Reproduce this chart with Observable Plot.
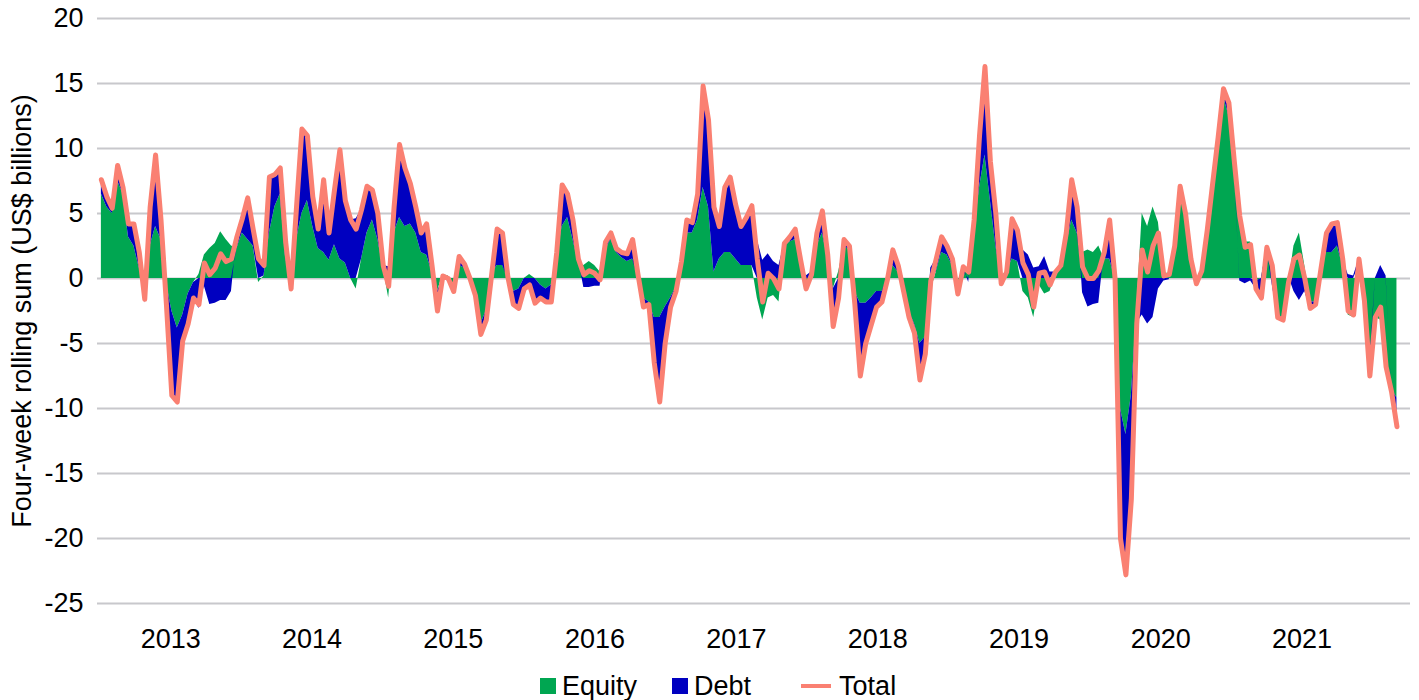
<!DOCTYPE html>
<html>
<head>
<meta charset="utf-8">
<script src="https://cdn.jsdelivr.net/npm/d3@7"></script>
<script src="https://cdn.jsdelivr.net/npm/@observablehq/plot@0.6"></script>
<style>
  body { margin: 0; background: #fff; font-family: "Liberation Sans", Arial, sans-serif; }
  #wrap { position: relative; width: 1419px; height: 700px; overflow: hidden; }
  #legend { position: absolute; left: 540px; top: 668px; height: 36px; display: flex; align-items: center; font-size: 27px; color: #000; white-space: nowrap; }
  .sw { width: 16px; height: 16px; display: inline-block; margin-right: 6px; }
  .ln { width: 30px; height: 4px; display: inline-block; margin-right: 8px; }
  .item { display: flex; align-items: center; }
</style>
</head>
<body>
<div id="wrap">
  <div id="chart"></div>
  <div id="legend"></div>
</div>
<script>
// ---- data (four-week rolling sums, US$ billions, sampled every two weeks) ----
const startDate = "2013-01-04";
const stepDays = 14;

const totalFlows = [
  7.6, 6.3, 5.4, 8.7, 7.0, 4.2, 4.2, 2.0, -1.6, 5.5,
  9.5, 4.5, -2.0, -9.0, -9.5, -4.8, -3.5, -1.5, -2.0, 1.2,
  0.3, 0.8, 1.9, 1.3, 1.5, 3.2, 4.6, 6.2, 3.8, 1.5,
  1.0, 7.8, 8.0, 8.5, 2.8, -0.8, 5.5, 11.5, 11.0, 6.3,
  3.8, 7.6, 3.5, 6.8, 9.9, 6.0, 4.5, 3.8, 5.3, 7.1,
  6.8, 5.0, 1.0, -0.6, 5.5, 10.3, 8.5, 7.3, 5.5, 3.5,
  4.2, 1.0, -2.5, 0.2, 0.0, -1.0, 1.7, 1.1, 0.0, -1.3,
  -4.3, -3.2, 0.3, 3.8, 3.5, 0.1, -2.0, -2.3, -0.8, -0.5,
  -1.9, -1.5, -1.8, -1.8, 2.0, 7.2, 6.5, 4.5, 1.5, 0.3,
  0.6, 0.4, -0.1, 2.8, 3.5, 2.3, 2.0, 1.9, 3.0, 0.3,
  -2.2, -2.0, -6.5, -9.5, -5.0, -2.2, -1.0, 1.3, 4.5, 4.3,
  6.5, 14.8, 12.2, 5.5, 4.0, 7.0, 7.8, 5.7, 4.0, 4.7,
  5.6, 1.5, -1.8, 0.4, 0.0, -0.8, 2.7, 3.2, 3.8, 1.4,
  -0.8, 0.3, 3.5, 5.2, 1.8, -3.7, -1.5, 3.0, 2.5, -2.0,
  -7.5, -5.0, -3.6, -2.2, -1.8, -0.1, 2.2, 1.0, -1.0, -3.0,
  -4.2, -7.8, -5.8, -0.2, 1.5, 3.2, 2.5, 1.5, -1.2, 0.9,
  0.5, 4.5, 11.0, 16.3, 9.0, 5.0, -0.4, 0.5, 4.6, 3.7,
  1.2, 0.3, -2.2, 0.4, 0.5, -0.5, 0.5, 1.0, 3.5, 7.6,
  5.5, 0.9, 0.0, 0.0, 0.6, 2.0, 4.5, 0.0, -20.0, -22.8,
  -17.0, -3.5, 2.2, 0.5, 2.5, 3.5, 0.2, 0.3, 2.5, 7.1,
  5.0, 1.5, -0.4, 0.6, 3.7, 7.3, 10.8, 14.6, 13.5, 9.0,
  4.8, 2.4, 2.6, -0.8, -1.5, 2.4, 1.0, -3.0, -3.2, -0.3,
  1.5, 1.8, 0.0, -2.3, -2.0, 0.8, 3.5, 4.2, 4.3, 1.5,
  -2.5, -2.8, 1.5, -1.7, -7.5, -3.0, -2.2, -6.8, -8.7, -11.4
];

const equityFlows = [
  6.5, 5.5, 5.0, 7.5, 6.5, 3.2, 2.5, 0.8, 0.3, 2.5,
  4.0, 3.0, -0.3, -2.5, -3.8, -2.8, -1.2, -0.3, 0.3, 1.8,
  2.3, 2.7, 3.6, 3.0, 2.5, 2.3, 3.5, 3.0, 2.5, -0.3,
  0.2, 3.5, 5.5, 6.5, 1.5, 0.2, 3.0, 5.0, 6.0, 4.0,
  2.3, 2.0, 1.4, 2.6, 1.5, 1.2, 0.0, -0.8, 1.5, 3.5,
  4.5, 3.0, 0.8, -1.5, 3.5, 4.7, 4.0, 4.2, 3.5, 2.0,
  1.8, 0.5, -1.0, 0.3, 0.2, -0.5, 1.0, 0.8, -0.2, -1.0,
  -3.5, -2.5, 0.3, 1.0, 1.0, 0.2, -1.0, -0.8, 0.0, 0.3,
  0.0, -0.5, -0.8, -0.5, 1.5, 4.0, 4.7, 3.0, 1.2, 1.0,
  1.3, 1.0, 0.5, 2.2, 3.0, 2.0, 1.6, 1.3, 1.5, 0.5,
  -1.5, -1.8, -3.0, -3.0, -2.2, -1.5, -0.7, 1.0, 3.5, 3.5,
  4.5, 7.0, 5.5, 0.5, 1.5, 2.0, 2.0, 1.5, 1.0, 1.0,
  1.0, -1.5, -3.2, -1.5, -1.3, -1.8, 2.5, 2.8, 3.0, 1.0,
  -1.0, -0.2, 2.5, 3.5, 1.5, -0.8, 0.5, 2.5, 2.2, -1.0,
  -1.9, -1.9, -1.5, -1.0, -1.0, -0.3, 1.0, 0.5, -1.0, -2.5,
  -3.5, -5.0, -4.5, -1.0, 0.5, 2.0, 1.8, 1.0, -0.5, 0.5,
  0.8, 3.5, 7.0, 9.5, 6.0, 2.5, 0.2, 0.5, 1.5, 1.3,
  -1.0, -1.5, -3.0, -0.5, -1.2, -1.0, 0.3, 0.8, 2.5, 4.5,
  3.5, 2.0, 2.2, 2.0, 2.5, 1.5, 1.5, 0.0, -10.0, -12.0,
  -9.0, -2.5, 5.0, 4.0, 5.5, 4.3, 0.4, 0.4, 2.3, 7.0,
  4.7, 1.5, -0.3, 0.3, 3.0, 7.0, 10.5, 14.0, 12.5, 8.5,
  5.0, 2.8, 2.8, -0.2, 0.0, 2.4, 1.5, -2.8, -3.0, -0.5,
  2.5, 3.5, 1.0, -1.8, -1.8, 0.8, 2.0, 2.0, 2.5, 1.0,
  -2.8, -3.0, 1.0, -1.5, -6.5, -3.0, -3.2, -7.0, -8.5, -9.2
];

const debtFlows = [
  1.1, 0.8, 0.4, 1.2, 0.5, 1.0, 1.7, 1.2, -1.9, 3.0,
  5.5, 1.5, -1.7, -6.5, -5.7, -2.0, -2.3, -1.2, -2.3, -0.6,
  -2.0, -1.9, -1.7, -1.7, -1.0, 0.9, 1.1, 3.2, 1.3, 1.8,
  0.8, 4.3, 2.5, 2.0, 1.3, -1.0, 2.5, 6.5, 5.0, 2.3,
  1.5, 5.6, 2.1, 4.2, 8.4, 4.8, 4.5, 4.6, 3.8, 3.6,
  2.3, 2.0, 0.2, 0.9, 2.0, 5.6, 4.5, 3.1, 2.0, 1.5,
  2.4, 0.5, -1.5, -0.1, -0.2, -0.5, 0.7, 0.3, 0.2, -0.3,
  -0.8, -0.7, 0.0, 2.8, 2.5, -0.1, -1.0, -1.5, -0.8, -0.8,
  -1.9, -1.0, -1.0, -1.3, 0.5, 3.2, 1.8, 1.5, 0.3, -0.7,
  -0.7, -0.6, -0.6, 0.6, 0.5, 0.3, 0.4, 0.6, 1.5, -0.2,
  -0.7, -0.2, -3.5, -6.5, -2.8, -0.7, -0.3, 0.3, 1.0, 0.8,
  2.0, 7.8, 6.7, 5.0, 2.5, 5.0, 5.8, 4.2, 3.0, 3.7,
  4.6, 3.0, 1.4, 1.9, 1.3, 1.0, 0.2, 0.4, 0.8, 0.4,
  0.2, 0.5, 1.0, 1.7, 0.3, -2.9, -2.0, 0.5, 0.3, -1.0,
  -5.6, -3.1, -2.1, -1.2, -0.8, 0.2, 1.2, 0.5, 0.0, -0.5,
  -0.7, -2.8, -1.3, 0.8, 1.0, 1.2, 0.7, 0.5, -0.7, 0.4,
  -0.3, 1.0, 4.0, 6.8, 3.0, 2.5, -0.6, 0.0, 3.1, 2.4,
  2.2, 1.8, 0.8, 0.9, 1.7, 0.5, 0.2, 0.2, 1.0, 3.1,
  2.0, -1.1, -2.2, -2.0, -1.9, 0.5, 3.0, 0.0, -10.0, -10.8,
  -8.0, -1.0, -2.8, -3.5, -3.0, -0.8, -0.2, -0.1, 0.2, 0.1,
  0.3, 0.0, -0.1, 0.3, 0.7, 0.3, 0.3, 0.6, 1.0, 0.5,
  -0.2, -0.4, -0.2, -0.6, -1.5, 0.0, -0.5, -0.2, -0.2, 0.2,
  -1.0, -1.7, -1.0, -0.5, -0.2, 0.0, 1.5, 2.2, 1.8, 0.5,
  0.3, 0.2, 0.5, -0.2, -1.0, 0.0, 1.0, 0.2, -0.2, -2.2
];

const seriesNames = ["Equity", "Debt"];
const seriesColors = ["#00a651", "#0000c0"];
const totalName = "Total";
const totalColor = "#fa8072";
const years = [2013, 2014, 2015, 2016, 2017, 2018, 2019, 2020, 2021];
const yTicks = [20, 15, 10, 5, 0, -5, -10, -15, -20, -25];
const yLabel = "Four-week rolling sum (US$ billions)";

// ---- build tables ----
const start = new Date(startDate + "T00:00:00Z");
const dates = totalFlows.map((_, i) => d3.utcDay.offset(start, stepDays * i));
const stacked = [
  ...equityFlows.map((v, i) => ({date: dates[i], series: seriesNames[0], value: v})),
  ...debtFlows.map((v, i) => ({date: dates[i], series: seriesNames[1], value: v}))
];
const totals = totalFlows.map((v, i) => ({date: dates[i], value: v}));
const yearTicks = years.map(y => new Date(Date.UTC(y, 6, 2)));

const fontFamily = '"Liberation Sans", Arial, Helvetica, sans-serif';

const chart = Plot.plot({
  width: 1419,
  height: 660,
  marginLeft: 97,
  marginRight: 9,
  marginTop: 18,
  marginBottom: 57,
  style: {fontFamily, fontSize: "27px", color: "#000", background: "#fff"},
  x: {type: "utc", domain: [new Date("2012-12-25T00:00:00Z"), new Date("2022-04-08T00:00:00Z")]},
  y: {domain: [-25, 20]},
  color: {domain: seriesNames, range: seriesColors},
  marks: [
    Plot.ruleY(yTicks, {stroke: "#c8c8cc", strokeWidth: 2}),
    Plot.areaY(stacked, {x: "date", y: "value", fill: "series", z: "series"}),
    Plot.lineY(totals, {x: "date", y: "value", stroke: totalColor, strokeWidth: 5, strokeLinejoin: "round"}),
    Plot.axisY({ticks: yTicks, tickSize: 0, tickPadding: 14, label: null, tickFormat: d => String(d)}),
    Plot.axisX({ticks: yearTicks, tickFormat: d => String(d.getUTCFullYear()), tickSize: 0, tickPadding: 25, label: null}),
    Plot.text([yLabel], {frameAnchor: "left", dx: -75, rotate: -90, textAnchor: "middle", lineAnchor: "middle", fontSize: 27, fill: "#000"})
  ]
});
document.getElementById("chart").appendChild(chart);

// ---- legend ----
const legend = d3.select("#legend");
seriesNames.forEach((name, i) => {
  const item = legend.append("div").attr("class", "item").style("margin-right", i === 0 ? "35px" : "50px");
  item.append("span").attr("class", "sw").style("background", seriesColors[i]);
  item.append("span").text(name);
});
const tItem = legend.append("div").attr("class", "item");
tItem.append("span").attr("class", "ln").style("background", totalColor);
tItem.append("span").text(totalName);
</script>
</body>
</html>
